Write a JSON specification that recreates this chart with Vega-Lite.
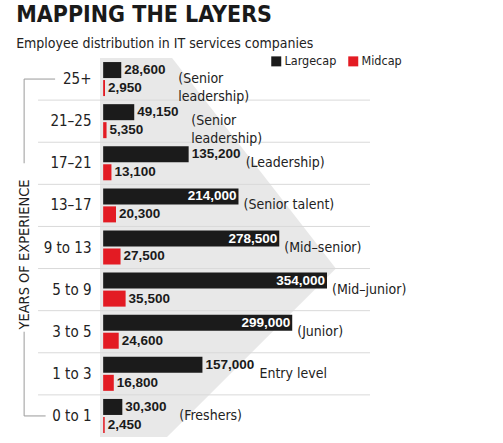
{
  "$schema": "https://vega.github.io/schema/vega-lite/v6.json",
  "width": 270,
  "height": 379,
  "padding": {"left": 16, "top": 4, "right": 5, "bottom": 5},
  "background": "white",
  "title": {
    "text": "MAPPING THE LAYERS",
    "subtitle": "Employee distribution in IT services companies",
    "anchor": "start",
    "frame": "bounds",
    "font": "Liberation Sans Narrow, DejaVu Sans Condensed, sans-serif",
    "fontSize": 23,
    "fontWeight": "bold",
    "color": "#1a1a1a",
    "subtitleFont": "Liberation Sans Narrow, DejaVu Sans Condensed, sans-serif",
    "subtitleFontSize": 14,
    "subtitleColor": "#222222",
    "subtitlePadding": 10,
    "offset": 4
  },
  "datasets": {
    "exp": [
      {"exp": "25+", "Largecap": 28600, "Midcap": 2950, "role": "(Senior\nleadership)"},
      {"exp": "21–25", "Largecap": 49150, "Midcap": 5350, "role": "(Senior\nleadership)"},
      {"exp": "17–21", "Largecap": 135200, "Midcap": 13100, "role": "(Leadership)"},
      {"exp": "13–17", "Largecap": 214000, "Midcap": 20300, "role": "(Senior talent)"},
      {"exp": "9 to 13", "Largecap": 278500, "Midcap": 27500, "role": "(Mid–senior)"},
      {"exp": "5 to 9", "Largecap": 354000, "Midcap": 35500, "role": "(Mid–junior)"},
      {"exp": "3 to 5", "Largecap": 299000, "Midcap": 24600, "role": "(Junior)"},
      {"exp": "1 to 3", "Largecap": 157000, "Midcap": 16800, "role": "Entry level"},
      {"exp": "0 to 1", "Largecap": 30300, "Midcap": 2450, "role": "(Freshers)"}
    ],
    "shadeTop": [
      {"exp": "25+", "edge": 109000},
      {"exp": "5 to 9", "edge": 368000}
    ],
    "shadeBottom": [
      {"exp": "9 to 13", "edge": 368000},
      {"exp": "0 to 1", "edge": 101000}
    ],
    "bracket": [
      {"ya": "25+", "yb": "17–21", "xa": -125000, "xb": -125000},
      {"ya": "25+", "yb": "25+", "xa": -125000, "xb": -76000},
      {"ya": "3 to 5", "yb": "0 to 1", "xa": -125000, "xb": -125000},
      {"ya": "0 to 1", "yb": "0 to 1", "xa": -125000, "xb": -91000}
    ]
  },
  "encoding": {
    "y": {
      "field": "exp",
      "type": "nominal",
      "sort": null,
      "scale": {
        "domain": ["25+", "21–25", "17–21", "13–17", "9 to 13", "5 to 9", "3 to 5", "1 to 3", "0 to 1"],
        "paddingInner": 0,
        "paddingOuter": 0
      },
      "axis": {
        "orient": "left",
        "title": "YEARS OF EXPERIENCE",
        "titleFont": "Liberation Sans Narrow, DejaVu Sans Condensed, sans-serif",
        "titleFontSize": 14.5,
        "titleFontWeight": "normal",
        "titleColor": "#222222",
        "titlePadding": 12,
        "titleY": 196,
        "labelFont": "Liberation Sans Narrow, DejaVu Sans Condensed, sans-serif",
        "labelFontSize": 15,
        "labelColor": "#222222",
        "labelPadding": 9,
        "ticks": false,
        "domain": false,
        "grid": false
      }
    }
  },
  "layer": [
    {
      "data": {"name": "shadeTop"},
      "mark": {"type": "area", "orient": "horizontal", "color": "#e8e8e8"},
      "encoding": {
        "y": {"field": "exp", "type": "nominal", "sort": null, "bandPosition": 0},
        "x": {"field": "edge", "type": "quantitative", "axis": null,
              "scale": {"domain": [-5000, 422000], "nice": false, "zero": false}},
        "x2": {"datum": -5000}
      }
    },
    {
      "data": {"name": "shadeBottom"},
      "mark": {"type": "area", "orient": "horizontal", "color": "#e8e8e8"},
      "encoding": {
        "y": {"field": "exp", "type": "nominal", "sort": null, "bandPosition": 1},
        "x": {"field": "edge", "type": "quantitative",
              "scale": {"domain": [-5000, 422000], "nice": false, "zero": false}},
        "x2": {"datum": -5000}
      }
    },
    {
      "data": {"name": "bracket"},
      "mark": {"type": "rule", "color": "#9a9a9a", "strokeWidth": 1},
      "encoding": {
        "y": {"field": "ya", "type": "nominal", "sort": null},
        "y2": {"field": "yb"},
        "x": {"field": "xa", "type": "quantitative",
              "scale": {"domain": [-5000, 422000], "nice": false, "zero": false}},
        "x2": {"field": "xb"}
      }
    },
    {
      "data": {"name": "exp"},
      "transform": [{"filter": "datum.exp != '25+'"}],
      "mark": {"type": "rule", "color": "#d9d9d9", "strokeWidth": 1},
      "encoding": {
        "y": {"field": "exp", "type": "nominal", "sort": null, "bandPosition": 0},
        "x": {"datum": -103000, "type": "quantitative",
              "scale": {"domain": [-5000, 422000], "nice": false, "zero": false}},
        "x2": {"datum": 422000}
      }
    },
    {
      "data": {"name": "exp"},
      "transform": [{"fold": ["Largecap", "Midcap"], "as": ["cap", "count"]}],
      "mark": {"type": "bar"},
      "encoding": {
        "yOffset": {"field": "cap", "type": "nominal",
                    "scale": {"domain": ["Largecap", "Midcap"], "paddingInner": 0.11, "paddingOuter": 0.225}},
        "x": {"field": "count", "type": "quantitative",
              "scale": {"domain": [-5000, 422000], "nice": false, "zero": false}},
        "color": {
          "field": "cap",
          "type": "nominal",
          "scale": {"domain": ["Largecap", "Midcap"], "range": ["#1b1b1b", "#e31b23"]},
          "legend": {
            "title": null,
            "orient": "none",
            "legendX": 170,
            "legendY": -3,
            "direction": "horizontal",
            "symbolType": "square",
            "symbolSize": 100,
            "symbolStrokeWidth": 0,
            "labelFont": "Liberation Sans Narrow, DejaVu Sans Condensed, sans-serif",
            "labelFontSize": 12.5,
            "labelColor": "#222222",
            "labelOffset": 2,
            "columnPadding": 10
          }
        }
      }
    },
    {
      "data": {"name": "exp"},
      "transform": [
        {"fold": ["Largecap", "Midcap"], "as": ["cap", "count"]},
        {"filter": "datum.cap == 'Largecap' && datum.count >= 200000"}
      ],
      "mark": {"type": "text", "align": "right", "baseline": "middle", "dx": -2, "color": "white",
               "font": "Liberation Sans, Arial, sans-serif", "fontSize": 13.5, "fontWeight": "bold"},
      "encoding": {
        "yOffset": {"field": "cap", "type": "nominal"},
        "x": {"field": "count", "type": "quantitative",
              "scale": {"domain": [-5000, 422000], "nice": false, "zero": false}},
        "text": {"field": "count", "type": "quantitative", "format": ","}
      }
    },
    {
      "data": {"name": "exp"},
      "transform": [
        {"fold": ["Largecap", "Midcap"], "as": ["cap", "count"]},
        {"filter": "datum.cap == 'Midcap' || datum.count < 200000"}
      ],
      "mark": {"type": "text", "align": "left", "baseline": "middle", "dx": 3, "color": "#1a1a1a",
               "font": "Liberation Sans, Arial, sans-serif", "fontSize": 13.5, "fontWeight": "bold"},
      "encoding": {
        "yOffset": {"field": "cap", "type": "nominal"},
        "x": {"field": "count", "type": "quantitative",
              "scale": {"domain": [-5000, 422000], "nice": false, "zero": false}},
        "text": {"field": "count", "type": "quantitative", "format": ","}
      }
    },
    {
      "data": {"name": "exp"},
      "transform": [{"filter": "datum.Largecap >= 200000"}],
      "mark": {"type": "text", "align": "left", "baseline": "middle", "dx": 5, "lineBreak": "\n", "lineHeight": 18,
               "color": "#222222", "font": "Liberation Sans Narrow, DejaVu Sans Condensed, sans-serif", "fontSize": 14},
      "encoding": {
        "x": {"field": "Largecap", "type": "quantitative",
              "scale": {"domain": [-5000, 422000], "nice": false, "zero": false}},
        "text": {"field": "role"}
      }
    },
    {
      "data": {"name": "exp"},
      "transform": [{"filter": "datum.Largecap < 200000"}],
      "mark": {"type": "text", "align": "left", "baseline": "middle", "dx": 57, "lineBreak": "\n", "lineHeight": 18,
               "color": "#222222", "font": "Liberation Sans Narrow, DejaVu Sans Condensed, sans-serif", "fontSize": 14},
      "encoding": {
        "x": {"field": "Largecap", "type": "quantitative",
              "scale": {"domain": [-5000, 422000], "nice": false, "zero": false}},
        "text": {"field": "role"}
      }
    }
  ],
  "config": {"view": {"stroke": null}, "axisX": {"disable": true}}
}
